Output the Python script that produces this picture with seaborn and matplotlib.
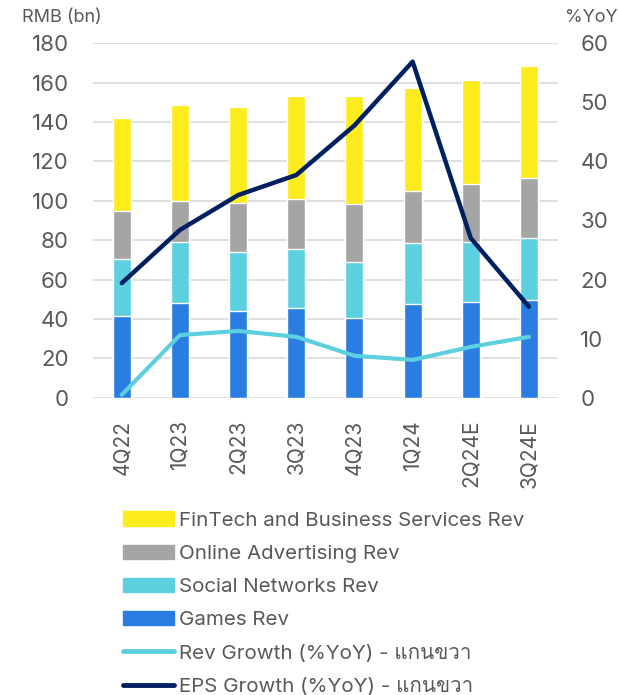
import matplotlib
matplotlib.use("Agg")
import matplotlib.pyplot as plt
import matplotlib.patches as mpatches
import matplotlib.lines as mlines
from matplotlib import font_manager
from matplotlib.ft2font import FT2Font
import seaborn as sns
import pandas as pd
import numpy as np

# Quarterly data (RMB bn)
quarters = ["4Q22", "1Q23", "2Q23", "3Q23", "4Q23", "1Q24", "2Q24E", "3Q24E"]
games_rev = [41.5, 48.1, 44.0, 45.7, 40.5, 47.7, 48.4, 49.8]
social_rev = [28.8, 31.0, 30.2, 29.8, 28.4, 30.7, 30.5, 31.5]
advert_rev = [24.5, 21.0, 24.8, 25.6, 29.6, 26.4, 29.5, 30.1]
fintech_rev = [47.4, 48.6, 48.6, 52.1, 54.6, 52.5, 53.0, 56.9]
rev_growth = [0.5, 10.6, 11.3, 10.3, 7.1, 6.4, 8.6, 10.3]
eps_growth = [19.4, 28.4, 34.3, 37.7, 46.1, 56.9, 27.0, 15.4]


def thai_families():
    """Find installed font families that can draw Thai text."""
    need = [ord(c) for c in "แกนขวา"]
    found = []
    for f in font_manager.fontManager.ttflist:
        if f.name in found:
            continue
        try:
            cmap = FT2Font(f.fname).get_charmap()
        except Exception:
            continue
        if all(c in cmap for c in need):
            found.append(f.name)
    return found


sns.set_theme(style="white")
families = ["Inter"] + thai_families() + ["DejaVu Sans"]
plt.rcParams["font.family"] = families
TXT = "#595959"

C_FIN = "#FCEB1D"
C_ADV = "#A5A5A5"
C_SOC = "#5DD0DF"
C_GAM = "#2A7DE1"
C_EPS = "#002060"
C_REVG = "#5DD0DF"

df = pd.DataFrame({
    "quarter": quarters,
    "Games Rev": games_rev,
    "Social Networks Rev": social_rev,
    "Online Advertising Rev": advert_rev,
    "FinTech and Business Services Rev": fintech_rev,
})
seg_cols = ["Games Rev", "Social Networks Rev", "Online Advertising Rev",
            "FinTech and Business Services Rev"]
seg_colors = [C_GAM, C_SOC, C_ADV, C_FIN]
cum = df[seg_cols].cumsum(axis=1)

fig = plt.figure(figsize=(6.18, 6.95), dpi=100)
ax = fig.add_axes([0.150, 0.4278, 0.753, 0.5099])

# stacked bars: draw cumulative totals from tallest to shortest
for col, color in reversed(list(zip(seg_cols, seg_colors))):
    sns.barplot(x=df["quarter"], y=cum[col], color=color, width=0.31,
                saturation=1, ax=ax, zorder=2)

ax.set_ylim(0, 180)
ax.set_yticks(np.arange(0, 181, 20))
ax.set_xlim(-0.5, len(quarters) - 0.5)
ax.grid(axis="y", color="#D9D9D9", linewidth=1.2, zorder=0)
ax.set_axisbelow(True)
for s in ax.spines.values():
    s.set_visible(False)
ax.set_xlabel("")
ax.set_ylabel("")
ax.tick_params(axis="y", length=0, pad=17, labelsize=16, labelcolor=TXT)
ax.tick_params(axis="x", length=0, pad=16, labelsize=15, labelcolor=TXT,
               labelrotation=90)

ax2 = ax.twinx()
xpos = np.arange(len(quarters))
sns.lineplot(x=xpos, y=rev_growth, color=C_REVG, linewidth=3.0, ax=ax2)
sns.lineplot(x=xpos, y=eps_growth, color=C_EPS, linewidth=3.2, ax=ax2)
ax2.set_ylim(0, 60)
ax2.set_yticks(np.arange(0, 61, 10))
ax2.grid(False)
for s in ax2.spines.values():
    s.set_visible(False)
ax2.tick_params(axis="y", length=0, pad=16, labelsize=16, labelcolor=TXT)
ax2.set_ylabel("")
ax2.set_xlim(-0.5, len(quarters) - 0.5)

fig.text(0.036, 0.975, "RMB (bn)", fontsize=13, color=TXT, ha="left", va="center")
fig.text(0.999, 0.975, "%YoY", fontsize=13, color=TXT, ha="right", va="center")

handles = [
    mpatches.Patch(color=C_FIN, label="FinTech and Business Services Rev"),
    mpatches.Patch(color=C_ADV, label="Online Advertising Rev"),
    mpatches.Patch(color=C_SOC, label="Social Networks Rev"),
    mpatches.Patch(color=C_GAM, label="Games Rev"),
    mlines.Line2D([], [], color=C_REVG, linewidth=3.5,
                  label="Rev Growth (%YoY) - แกนขวา"),
    mlines.Line2D([], [], color=C_EPS, linewidth=3.5,
                  label="EPS Growth (%YoY) - แกนขวา"),
]
leg = fig.legend(handles=handles, loc="upper left", bbox_to_anchor=(0.185, 0.276),
                 frameon=False, fontsize=14.8, handlelength=2.5, handletextpad=0.25,
                 labelspacing=0.72, borderaxespad=0)
for t in leg.get_texts():
    t.set_color(TXT)

fig.savefig("out.png", dpi=100)
